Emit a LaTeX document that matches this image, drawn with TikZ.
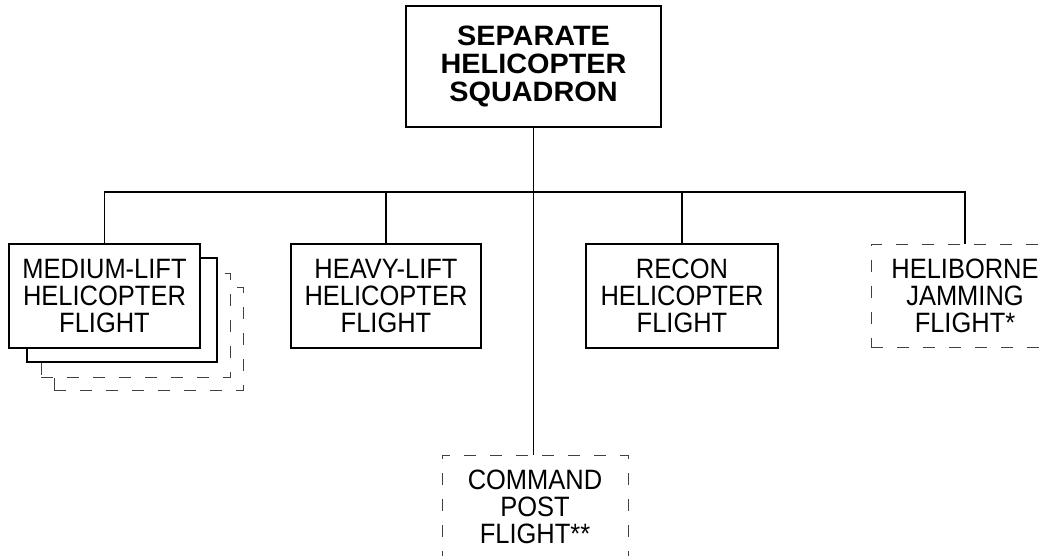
\documentclass[tikz,border=0pt]{standalone}
\usepackage{fontspec}
\newfontfamily\regfont[FakeStretch=0.91]{Liberation Sans}
\newfontfamily\hbfont[FakeStretch=1.03]{Liberation Sans Bold}
\begin{document}
\begin{tikzpicture}[x=1pt,y=-1pt,
  unitbox/.style={draw=black, line width=1.5pt, fill=white, inner sep=0pt,
    minimum width=191pt, minimum height=104pt, align=center,
    font=\regfont\fontsize{28}{26.8}\selectfont},
  dashbox/.style={unitbox, draw=black!75, line width=1pt, dash pattern=on 12pt off 14pt},
  hqbox/.style={draw=black, line width=1.5pt, fill=white, inner sep=0pt,
    minimum width=255pt, minimum height=121pt, align=center,
    font=\hbfont\fontsize{28}{28}\selectfont},
  link/.style={draw=black, line width=1.5pt}
]
\useasboundingbox (0,0) rectangle (1052,556);

% top
\node[hqbox] (hq) at (533.5,66.5) {SEPARATE\\HELICOPTER\\SQUADRON};

% bus coordinate
\coordinate (bus) at (533,192);

% medium-lift stack
\node[dashbox, minimum width=189pt, minimum height=103pt] (med4) at (148.5,338.5) {};
\node[dashbox, minimum width=189pt, minimum height=104pt] (med3) at (135.5,325) {};
\node[unitbox, minimum width=190pt] (med2) at (122,310) {};
\node[unitbox] (med) at (104.5,296) {MEDIUM-LIFT\\HELICOPTER\\FLIGHT};

\node[unitbox, minimum width=190pt] (heavy) at (386,296) {HEAVY-LIFT\\HELICOPTER\\FLIGHT};
\node[unitbox, minimum width=192pt] (recon) at (682,296) {RECON\\HELICOPTER\\FLIGHT};
\node[dashbox, minimum width=188pt, minimum height=103pt] (jam) at (965,296) {HELIBORNE\\JAMMING\\FLIGHT*};
\node[dashbox, minimum width=186pt, minimum height=104pt] (cp) at (535,507) {COMMAND\\POST\\FLIGHT**};

% connectors
\draw[link] (hq.south) -- (hq.south |- cp.north);
\draw[link] (med.north) -- (med.north |- bus) -- (jam.north |- bus) -- (jam.north);
\draw[link] (heavy.north) -- (heavy.north |- bus);
\draw[link] (recon.north) -- (recon.north |- bus);
\end{tikzpicture}
\end{document}
